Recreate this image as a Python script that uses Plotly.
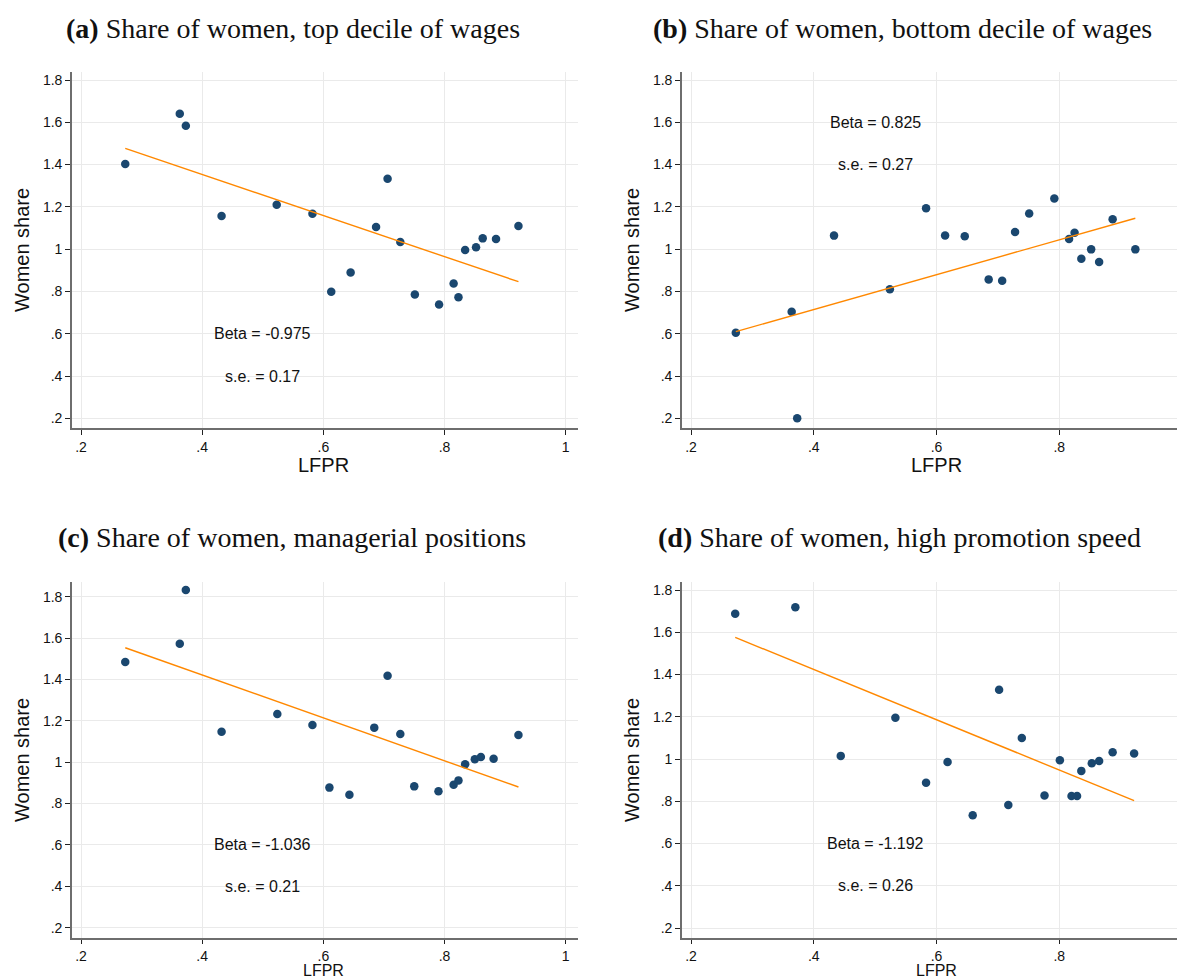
import plotly.graph_objects as go

W, H = 1185, 980
OFF = 8  # the page body has an 8px margin, so the figure starts at (8, 8)

# panel (a): top decile of wages
lfpr_a = [0.273, 0.363, 0.373, 0.432, 0.523, 0.582, 0.613, 0.645, 0.687, 0.706,
          0.727, 0.751, 0.791, 0.815, 0.823, 0.834, 0.852, 0.863, 0.885, 0.922]
share_a = [1.403, 1.641, 1.584, 1.157, 1.210, 1.168, 0.799, 0.890, 1.105, 1.333,
           1.034, 0.786, 0.738, 0.837, 0.772, 0.996, 1.009, 1.051, 1.048, 1.110]
fit_x_a = [0.273, 0.922]
fit_y_a = [1.477, 0.846]

# panel (b): bottom decile of wages
lfpr_b = [0.273, 0.364, 0.373, 0.433, 0.524, 0.583, 0.614, 0.646, 0.685, 0.707,
          0.728, 0.751, 0.792, 0.816, 0.825, 0.836, 0.852, 0.865, 0.887, 0.924]
share_b = [0.605, 0.704, 0.200, 1.064, 0.810, 1.193, 1.065, 1.061, 0.857, 0.851,
           1.081, 1.169, 1.240, 1.048, 1.078, 0.955, 0.999, 0.939, 1.141, 0.999]
fit_x_b = [0.273, 0.924]
fit_y_b = [0.610, 1.146]

# panel (c): managerial positions
lfpr_c = [0.273, 0.363, 0.373, 0.432, 0.524, 0.582, 0.610, 0.643, 0.684, 0.706,
          0.727, 0.750, 0.790, 0.815, 0.823, 0.834, 0.850, 0.860, 0.881, 0.922]
share_c = [1.484, 1.573, 1.832, 1.147, 1.233, 1.180, 0.877, 0.843, 1.167, 1.418,
           1.136, 0.883, 0.859, 0.891, 0.912, 0.990, 1.014, 1.025, 1.017, 1.131]
fit_x_c = [0.273, 0.922]
fit_y_c = [1.553, 0.880]

# panel (d): high promotion speed
lfpr_d = [0.272, 0.370, 0.444, 0.533, 0.583, 0.618, 0.659, 0.702, 0.717, 0.739,
          0.776, 0.801, 0.820, 0.829, 0.836, 0.853, 0.865, 0.887, 0.922]
share_d = [1.688, 1.718, 1.015, 1.195, 0.888, 0.986, 0.734, 1.328, 0.783, 1.100,
           0.827, 0.994, 0.825, 0.825, 0.944, 0.980, 0.991, 1.032, 1.026]
fit_x_d = [0.272, 0.922]
fit_y_d = [1.576, 0.803]

titles = ["top decile of wages", "bottom decile of wages",
          "managerial positions", "high promotion speed"]
letters = ["a", "b", "c", "d"]
betas = ["-0.975", "0.825", "-1.036", "-1.192"]
ses = ["0.17", "0.27", "0.21", "0.26"]
beta_y = [0.6, 1.6, 0.6, 0.6]
se_y = [0.4, 1.4, 0.4, 0.4]

xticks = [0.2, 0.4, 0.6, 0.8, 1.0]
xticklabels = [".2", ".4", ".6", ".8", "1"]
yticks = [0.2, 0.4, 0.6, 0.8, 1.0, 1.2, 1.4, 1.6, 1.8]
yticklabels = [".2", ".4", ".6", ".8", "1", "1.2", "1.4", "1.6", "1.8"]

NAVY = "#1a476f"
ORANGE = "#ff8800"
GRID = "#eaeaea"
AXIS = "#6e6e6e"
SANS = "Liberation Sans, Arial, sans-serif"
SERIF = "Liberation Serif, Times New Roman, serif"

FW, FH = W - OFF, H - OFF


def px_x(p):
    return (p - OFF) / FW


def px_y(p):
    return 1 - (p - OFF) / FH


# plot areas in screen pixels: (left, right, top, bottom)
boxes = [(72, 578, 72, 428), (682, 1185, 72, 428),
         (72, 578, 582, 938), (682, 1185, 582, 938)]
xranges = [[0.1851, 1.0203], [0.1853, 1.0049], [0.1851, 1.0203], [0.1853, 1.0049]]
yranges = [[0.154, 1.838], [0.154, 1.838], [0.150, 1.871], [0.153, 1.838]]
title_x = [293, 902, 292, 899]
title_y = [28, 28, 537, 537]
# the bottom row sits close to the page edge, so its axis title is a bit smaller
lfpr_y = [465, 465, 970, 970]
lfpr_size = [20, 20, 16, 16]
xticklen = [5, 5, 4, 4]

series = [(lfpr_a, share_a, fit_x_a, fit_y_a), (lfpr_b, share_b, fit_x_b, fit_y_b),
          (lfpr_c, share_c, fit_x_c, fit_y_c), (lfpr_d, share_d, fit_x_d, fit_y_d)]

fig = go.Figure()
layout = {}
annotations = []

for i, (xs, ys, fx, fy) in enumerate(series):
    n = "" if i == 0 else str(i + 1)
    left, right, top, bottom = boxes[i]

    fig.add_trace(go.Scatter(
        x=xs, y=ys, mode="markers", xaxis="x" + n, yaxis="y" + n,
        marker=dict(color=NAVY, size=8.5, line=dict(width=0)),
        showlegend=False, hoverinfo="x+y"))

    # fitted line
    fig.add_trace(go.Scatter(
        x=fx, y=fy, mode="lines", xaxis="x" + n, yaxis="y" + n,
        line=dict(color=ORANGE, width=1.4), showlegend=False, hoverinfo="skip"))

    axis_common = dict(
        ticks="outside", tickcolor="#222", tickwidth=1,
        showgrid=True, gridcolor=GRID, gridwidth=1,
        showline=True, linecolor=AXIS, linewidth=1.6, zeroline=False,
        tickfont=dict(family=SANS, size=14, color="#111"))
    layout["xaxis" + n] = dict(
        domain=[px_x(left), min(px_x(right), 1.0)], range=xranges[i], anchor="y" + n,
        tickvals=xticks, ticktext=xticklabels, ticklen=xticklen[i], **axis_common)
    layout["yaxis" + n] = dict(
        domain=[px_y(bottom), px_y(top)], range=yranges[i], anchor="x" + n,
        tickvals=yticks, ticktext=yticklabels, ticklen=5, **axis_common)

    annotations.append(dict(
        text="<b>(" + letters[i] + ")</b> Share of women, " + titles[i],
        xref="paper", yref="paper", x=px_x(title_x[i]), y=px_y(title_y[i]),
        xanchor="center", yanchor="middle", showarrow=False,
        font=dict(family=SERIF, size=28, color="#111")))
    annotations.append(dict(
        text="LFPR", xref="x" + n, yref="paper", x=0.6, y=px_y(lfpr_y[i]),
        xanchor="center", yanchor="middle", showarrow=False,
        font=dict(family=SANS, size=lfpr_size[i], color="#111")))
    annotations.append(dict(
        text="Women share", xref="paper", yref="paper", textangle=-90,
        x=px_x(left - 50), y=px_y((top + bottom) / 2),
        xanchor="center", yanchor="middle", showarrow=False,
        font=dict(family=SANS, size=20, color="#111")))
    annotations.append(dict(
        text="Beta = " + betas[i], xref="x" + n, yref="y" + n,
        x=0.5, y=beta_y[i], showarrow=False,
        font=dict(family=SANS, size=16, color="#111")))
    annotations.append(dict(
        text="s.e. = " + ses[i], xref="x" + n, yref="y" + n,
        x=0.5, y=se_y[i], showarrow=False,
        font=dict(family=SANS, size=16, color="#111")))

fig.update_layout(
    width=FW, height=FH, margin=dict(l=0, r=0, t=0, b=0),
    paper_bgcolor="white", plot_bgcolor="white",
    annotations=annotations, **layout)

fig.write_html("out.html")
